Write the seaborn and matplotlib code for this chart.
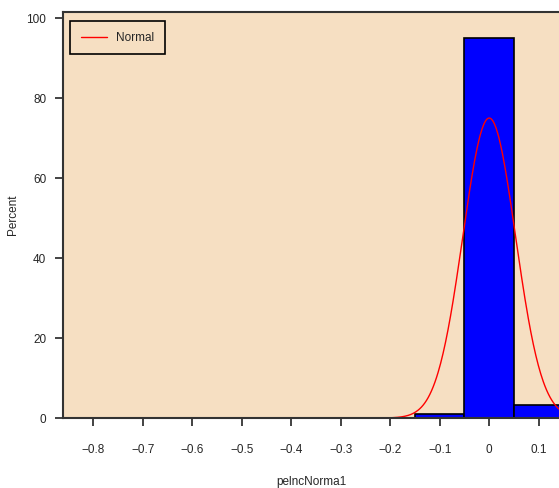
import numpy as np
import pandas as pd
import matplotlib
matplotlib.use("Agg")
import matplotlib.pyplot as plt
import seaborn as sns

# Data
bin_centers = [-0.1, 0.0, 0.1]
bin_percent = [1.0, 95.0, 3.3]
bin_width = 0.1
normal_mu = 0.0
normal_sigma = 0.0532
x_ticks = [-0.8, -0.7, -0.6, -0.5, -0.4, -0.3, -0.2, -0.1, 0.0, 0.1]
x_tick_labels = ["\u22120.8", "\u22120.7", "\u22120.6", "\u22120.5", "\u22120.4",
                 "\u22120.3", "\u22120.2", "\u22120.1", "0", "0.1"]
y_ticks = [0, 20, 40, 60, 80, 100]

sns.set_style("white")
plt.rcParams["font.family"] = ["Liberation Sans", "DejaVu Sans"]

bg = "#F6DFC2"
fig = plt.figure(figsize=(5.59, 4.88), dpi=100)
ax = fig.add_axes([0.1127, 0.1434, 0.8873, 0.832])
ax.set_facecolor(bg)

hist_df = pd.DataFrame({"x": bin_centers, "w": bin_percent})
edges = [c - bin_width / 2 for c in bin_centers] + [bin_centers[-1] + bin_width / 2]
sns.histplot(data=hist_df, x="x", weights="w", bins=edges, stat="count",
             color="#0000FF", alpha=1.0, edgecolor="black", linewidth=1.2, ax=ax)

xs = np.linspace(-0.861, 0.141, 600)
ys = 100 * bin_width * np.exp(-0.5 * ((xs - normal_mu) / normal_sigma) ** 2) / (normal_sigma * np.sqrt(2 * np.pi))
curve_df = pd.DataFrame({"x": xs, "y": ys})
sns.lineplot(data=curve_df, x="x", y="y", color="#FF0000", linewidth=1.0, ax=ax, label="Normal")

ax.set_xlim(-0.861, 0.141)
ax.set_ylim(0, 101.5)
ax.set_xticks(x_ticks)
ax.set_xticklabels(x_tick_labels, fontsize=8.5)
ax.set_yticks(y_ticks)
ax.set_yticklabels([str(v) for v in y_ticks], fontsize=8.5)
ax.tick_params(axis="both", direction="out", length=6, width=1.2, color="#222222",
               bottom=True, left=True)
ax.tick_params(axis="x", pad=13)
ax.tick_params(axis="y", pad=6)
ax.set_xlabel("pelncNorma1", fontsize=8.5, labelpad=14)
ax.set_ylabel("Percent", fontsize=8.5)
ax.yaxis.set_label_coords(-0.088, 0.5)

for s in ["left", "top", "bottom"]:
    ax.spines[s].set_visible(True)
    ax.spines[s].set_color("#333333")
    ax.spines[s].set_linewidth(1.5)
ax.spines["right"].set_visible(False)

leg = ax.legend(loc="upper left", bbox_to_anchor=(0.003, 0.992), fontsize=8.5,
                frameon=True, fancybox=False, handlelength=2.2, borderpad=0.9)
leg.get_frame().set_edgecolor("black")
leg.get_frame().set_facecolor(bg)
leg.get_frame().set_linewidth(1.2)
leg.get_frame().set_alpha(1.0)

fig.savefig("out.png", dpi=100, facecolor="white")
